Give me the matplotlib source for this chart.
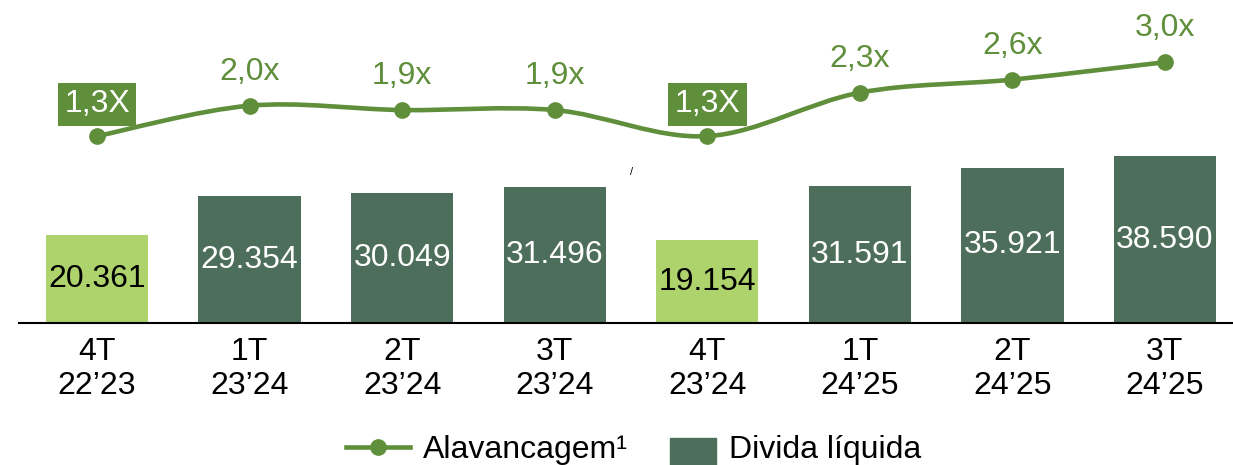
import matplotlib
matplotlib.use('Agg')
import matplotlib.pyplot as plt
import matplotlib.patches as mpatches
from matplotlib.path import Path
from matplotlib.lines import Line2D
from matplotlib.legend_handler import HandlerPatch

plt.rcParams['font.family'] = ['Liberation Sans', 'DejaVu Sans']

quarters = ['4T', '1T', '2T', '3T', '4T', '1T', '2T', '3T']
years = ['22’23', '23’24', '23’24', '23’24', '23’24', '24’25', '24’25', '24’25']
divida = [20361, 29354, 30049, 31496, 19154, 31591, 35921, 38590]
alavancagem = [1.3, 2.0, 1.9, 1.9, 1.3, 2.3, 2.6, 3.0]

LINE_GREEN = '#5f8f3b'
DARK = '#4d6e5b'
LIGHT = '#aed36c'
FS = 23

x = list(range(len(quarters)))
hl = [q == '4T' for q in quarters]

fig = plt.figure(figsize=(12.33, 4.65), dpi=100)
ax = fig.add_axes([0, 0.305, 1, 0.695])
ax2 = ax.twinx()

bars = ax.bar(x, divida, width=0.67, color=[LIGHT if h else DARK for h in hl])
ax.set_xlim(-0.636, 7.446)
ax.set_ylim(0, 74600)
labels = [f'{v:,}'.replace(',', '.') for v in divida]
texts = ax.bar_label(bars, labels=labels, label_type='center', fontsize=FS)
for t, h in zip(texts, hl):
    t.set_color('black' if h else 'white')

ax.set_xticks(x)
ax.set_xticklabels([f'{q}\n{y}' for q, y in zip(quarters, years)], fontsize=FS,
                   linespacing=1.15)
ax.tick_params(axis='x', length=0, pad=10)
ax.set_yticks([])
for s in ['top', 'left', 'right']:
    ax.spines[s].set_visible(False)
ax.spines['bottom'].set_bounds(-0.51, 7.45)
ax.spines['bottom'].set_linewidth(1.5)

# smooth line (Catmull-Rom as cubic bezier)
pts = list(zip(x, alavancagem))
verts = [pts[0]]
codes = [Path.MOVETO]
n = len(pts)
for i in range(n - 1):
    p0 = pts[max(i - 1, 0)]
    p1 = pts[i]
    p2 = pts[i + 1]
    p3 = pts[min(i + 2, n - 1)]
    c1 = (p1[0] + (p2[0] - p0[0]) / 6, p1[1] + (p2[1] - p0[1]) / 6)
    c2 = (p2[0] - (p3[0] - p1[0]) / 6, p2[1] - (p3[1] - p1[1]) / 6)
    verts += [c1, c2, p2]
    codes += [Path.CURVE4] * 3
ax2.add_patch(mpatches.PathPatch(Path(verts, codes), facecolor='none',
                                 edgecolor=LINE_GREEN, lw=3.3, capstyle='round'))
ax2.plot(x, alavancagem, 'o', color=LINE_GREEN, ms=11)
ax2.set_ylim(-3.0, 4.43)
ax2.set_yticks([])
for s in ax2.spines.values():
    s.set_visible(False)

for xi, v, h in zip(x, alavancagem, hl):
    txt = f'{v:.1f}'.replace('.', ',') + ('X' if h else 'x')
    if h:
        ax2.annotate(txt, (xi, v), xytext=(0, 32), textcoords='offset pixels',
                     ha='center', va='center', fontsize=FS, color='white',
                     bbox=dict(boxstyle='square,pad=0.2', fc=LINE_GREEN, ec='none'))
    else:
        ax2.annotate(txt, (xi, v), xytext=(0, 34), textcoords='offset pixels',
                     ha='center', va='center', fontsize=FS, color=LINE_GREEN)

fig.text(632 / 1233, 1 - 172 / 465, '/', fontsize=8, ha='center', va='center')


def square(legend, orig_handle, xdescent, ydescent, width, height, fontsize):
    s = width * 0.72
    return mpatches.Rectangle((xdescent + width - s, ydescent + height / 2 - 27), s, s)


h1 = Line2D([], [], color=LINE_GREEN, lw=3.3, marker='o', ms=11)
h2 = mpatches.Patch(color=DARK)
fig.legend([h1, h2], ['Alavancagem¹', 'Divida líquida'], loc='center',
           bbox_to_anchor=(0.514, 0.032), ncol=2, frameon=False, fontsize=FS,
           handlelength=2.0, handletextpad=0.4, columnspacing=0.78,
           handler_map={mpatches.Patch: HandlerPatch(patch_func=square)})

fig.savefig('out.png', dpi=100)
